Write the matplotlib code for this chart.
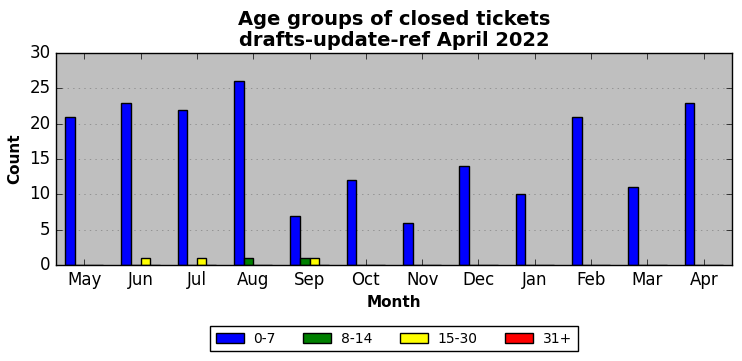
import numpy as np
import matplotlib
matplotlib.use('Agg')
import matplotlib.pyplot as plt

# Data
months = ['May', 'Jun', 'Jul', 'Aug', 'Sep', 'Oct', 'Nov', 'Dec', 'Jan', 'Feb', 'Mar', 'Apr']
age_0_7 = [21, 23, 22, 26, 7, 12, 6, 14, 10, 21, 11, 23]
age_8_14 = [0, 0, 0, 1, 1, 0, 0, 0, 0, 0, 0, 0]
age_15_30 = [0, 1, 1, 0, 1, 0, 0, 0, 0, 0, 0, 0]
age_31_plus = [0, 0, 0, 0, 0, 0, 0, 0, 0, 0, 0, 0]

series = [age_0_7, age_8_14, age_15_30, age_31_plus]
labels = ['0-7', '8-14', '15-30', '31+']
colors = ['blue', 'green', 'yellow', 'red']

plt.style.use('classic')

fig = plt.figure(figsize=(7.42, 3.61), dpi=100, facecolor='white')
ax = fig.add_axes([0.0755, 0.266, 0.911, 0.587])
ax.set_facecolor('#bfbfbf')

x = np.arange(len(months))
width = 0.17
for i, (vals, label, color) in enumerate(zip(series, labels, colors)):
    ax.bar(x + (i - 1.5) * width, vals, width, color=color, edgecolor='black',
           linewidth=1, label=label, align='center')

ax.set_xlim(-0.5, len(months) - 0.5)
ax.set_ylim(0, 30)
ax.set_xticks(x)
ax.set_xticklabels(months)
ax.set_yticks(range(0, 31, 5))
ax.yaxis.grid(True, linestyle=':', color='#808080')
ax.set_axisbelow(True)

ax.set_title('Age groups of closed tickets\ndrafts-update-ref April 2022',
             fontsize=14, fontweight='bold', linespacing=1.15)
ax.set_xlabel('Month', fontsize=11, fontweight='bold')
ax.set_ylabel('Count', fontsize=11, fontweight='bold')

ax.legend(loc='upper center', bbox_to_anchor=(0.5, -0.255), ncol=4,
          fontsize=10, fancybox=False, handlelength=2.0, handletextpad=0.7,
          columnspacing=2.0)

fig.savefig('out.png', dpi=100, facecolor='white')
